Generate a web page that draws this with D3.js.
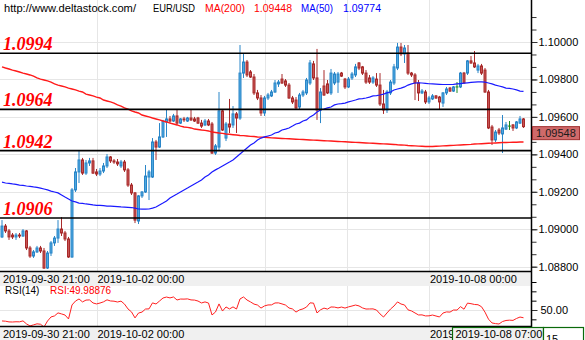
<!DOCTYPE html>
<html>
<head>
<meta charset="utf-8">
<script src="https://cdn.jsdelivr.net/npm/d3@7"></script>
<style>
html, body { margin: 0; padding: 0; background: #fff; }
svg { display: block; }
text { font-family: "Liberation Sans", Arial, sans-serif; }
</style>
</head>
<body>
<svg id="chart" width="585" height="340"></svg>
<script>
// EUR/USD hourly candles with MA(200), MA(50) and RSI(14)
const site = "http://www.deltastock.com/";
const symbol = "EUR/USD";
const firstBarTime = "2019-09-30 21:00";

const opens = [
1.08959,1.09017,1.08991,1.08969,1.08959,1.08969,1.08964,1.08991,1.08900,1.08857,
1.08879,1.08900,1.08884,1.08793,1.08873,1.08927,1.08953,1.09001,1.08980,1.08948,
1.08852,1.09210,1.09306,1.09370,1.09300,1.09354,1.09365,1.09306,1.09295,1.09311,
1.09338,1.09386,1.09365,1.09359,1.09338,1.09359,1.09317,1.09236,1.09194,1.09044,
1.09178,1.09199,1.09279,1.09279,1.09466,1.09439,1.09493,1.09573,1.09589,1.09578,
1.09605,1.09567,1.09589,1.09578,1.09594,1.09589,1.09594,1.09567,1.09557,1.09578,
1.09562,1.09407,1.09439,1.09632,1.09487,1.09562,1.09557,1.09616,1.09594,1.09834,
1.09893,1.09840,1.09813,1.09728,1.09701,1.09621,1.09701,1.09712,1.09733,1.09776,
1.09802,1.09792,1.09770,1.09701,1.09690,1.09653,1.09717,1.09728,1.09781,1.09883,
1.09808,1.09637,1.09765,1.09776,1.09728,1.09781,1.09786,1.09834,1.09802,1.09760,
1.09808,1.09824,1.09888,1.09867,1.09834,1.09808,1.09786,1.09802,1.09770,1.09669,
1.09637,1.09728,1.09781,1.09861,1.09973,1.09936,1.09941,1.09834,1.09824,1.09781,
1.09728,1.09733,1.09680,1.09696,1.09712,1.09706,1.09674,1.09728,1.09754,1.09738,
1.09760,1.09760,1.09834,1.09834,1.09899,1.09888,1.09850,1.09872,1.09850,1.09733,
1.09546,1.09477,1.09530,1.09509,1.09535,1.09551,1.09557,1.09541,1.09567,1.09589];

const highs = [
1.09049,1.09028,1.09001,1.08980,1.08980,1.08980,1.09001,1.08996,1.08911,1.08889,
1.08911,1.08911,1.08900,1.08884,1.08937,1.08964,1.09049,1.09065,1.08991,1.08959,
1.09220,1.09327,1.09423,1.09381,1.09370,1.09381,1.09381,1.09322,1.09327,1.09354,
1.09402,1.09391,1.09375,1.09375,1.09370,1.09370,1.09327,1.09247,1.09199,1.09183,
1.09204,1.09343,1.09317,1.09487,1.09477,1.09567,1.09584,1.09637,1.09605,1.09616,
1.09637,1.09594,1.09600,1.09600,1.09637,1.09600,1.09600,1.09584,1.09589,1.09589,
1.09573,1.09455,1.09733,1.09637,1.09573,1.09696,1.09658,1.09626,1.09984,1.09941,
1.09904,1.09850,1.09829,1.09744,1.09717,1.09712,1.09728,1.09744,1.09797,1.09797,
1.09829,1.09802,1.09781,1.09712,1.09706,1.09728,1.09744,1.09808,1.09904,1.09899,
1.09963,1.09754,1.09850,1.09797,1.09856,1.09840,1.09840,1.09840,1.09808,1.09813,
1.09840,1.09883,1.09893,1.09872,1.09850,1.09824,1.09818,1.09834,1.09834,1.09744,
1.09744,1.09797,1.09883,1.09995,1.09995,1.09984,1.09984,1.09840,1.09834,1.09797,
1.09749,1.09744,1.09712,1.09722,1.09717,1.09712,1.09733,1.09760,1.09760,1.09765,
1.09786,1.09840,1.09840,1.09904,1.09925,1.09952,1.09883,1.09883,1.09861,1.09744,
1.09557,1.09530,1.09541,1.09610,1.09573,1.09578,1.09562,1.09578,1.09605,1.09594];

const lows = [
1.08953,1.08980,1.08943,1.08948,1.08943,1.08953,1.08959,1.08889,1.08847,1.08847,
1.08873,1.08873,1.08788,1.08788,1.08857,1.08911,1.08927,1.08964,1.08937,1.08847,
1.08847,1.09199,1.09247,1.09290,1.09290,1.09338,1.09295,1.09284,1.09284,1.09300,
1.09327,1.09354,1.09349,1.09338,1.09327,1.09306,1.09226,1.09183,1.09033,1.09028,
1.09167,1.09194,1.09156,1.09274,1.09370,1.09434,1.09487,1.09493,1.09567,1.09573,
1.09557,1.09562,1.09573,1.09573,1.09578,1.09573,1.09562,1.09541,1.09551,1.09551,
1.09402,1.09397,1.09423,1.09525,1.09471,1.09514,1.09541,1.09514,1.09584,1.09808,
1.09813,1.09808,1.09717,1.09690,1.09605,1.09605,1.09690,1.09706,1.09728,1.09760,
1.09776,1.09760,1.09696,1.09669,1.09637,1.09637,1.09706,1.09717,1.09770,1.09797,
1.09584,1.09567,1.09712,1.09722,1.09717,1.09770,1.09728,1.09813,1.09749,1.09754,
1.09797,1.09813,1.09850,1.09824,1.09776,1.09776,1.09776,1.09760,1.09658,1.09616,
1.09621,1.09717,1.09770,1.09850,1.09925,1.09888,1.09824,1.09813,1.09690,1.09685,
1.09722,1.09669,1.09669,1.09690,1.09696,1.09637,1.09653,1.09717,1.09733,1.09733,
1.09728,1.09754,1.09776,1.09824,1.09883,1.09861,1.09834,1.09824,1.09728,1.09535,
1.09450,1.09466,1.09503,1.09407,1.09530,1.09530,1.09525,1.09535,1.09562,1.09541];

const closes = [
1.09017,1.08991,1.08959,1.08959,1.08969,1.08964,1.08991,1.08900,1.08857,1.08879,
1.08900,1.08884,1.08793,1.08873,1.08927,1.08953,1.09001,1.08980,1.08948,1.08852,
1.09210,1.09306,1.09370,1.09300,1.09354,1.09365,1.09300,1.09295,1.09311,1.09338,
1.09386,1.09365,1.09359,1.09349,1.09359,1.09317,1.09236,1.09194,1.09049,1.09178,
1.09199,1.09284,1.09306,1.09466,1.09439,1.09493,1.09578,1.09589,1.09578,1.09605,
1.09567,1.09589,1.09584,1.09594,1.09584,1.09578,1.09567,1.09551,1.09578,1.09557,
1.09407,1.09445,1.09632,1.09530,1.09562,1.09546,1.09616,1.09594,1.09834,1.09893,
1.09824,1.09813,1.09728,1.09701,1.09621,1.09701,1.09717,1.09733,1.09781,1.09786,
1.09781,1.09770,1.09701,1.09680,1.09648,1.09717,1.09733,1.09797,1.09888,1.09808,
1.09637,1.09733,1.09717,1.09728,1.09834,1.09829,1.09829,1.09818,1.09760,1.09802,
1.09829,1.09867,1.09861,1.09834,1.09786,1.09786,1.09808,1.09770,1.09669,1.09637,
1.09733,1.09786,1.09867,1.09973,1.09936,1.09968,1.09834,1.09824,1.09781,1.09728,
1.09738,1.09680,1.09701,1.09712,1.09701,1.09680,1.09728,1.09749,1.09738,1.09760,
1.09760,1.09834,1.09781,1.09899,1.09888,1.09867,1.09872,1.09834,1.09733,1.09541,
1.09477,1.09519,1.09514,1.09541,1.09557,1.09551,1.09541,1.09573,1.09589,1.09548];

const ma200 = [
1.09867,1.09861,1.09856,1.09850,1.09845,1.09840,1.09834,1.09829,1.09824,1.09818,
1.09808,1.09802,1.09797,1.09792,1.09786,1.09776,1.09770,1.09765,1.09760,1.09754,
1.09749,1.09744,1.09738,1.09733,1.09722,1.09717,1.09712,1.09706,1.09701,1.09690,
1.09685,1.09680,1.09674,1.09664,1.09658,1.09648,1.09642,1.09632,1.09626,1.09621,
1.09610,1.09605,1.09600,1.09594,1.09589,1.09584,1.09578,1.09573,1.09567,1.09562,
1.09557,1.09551,1.09546,1.09544,1.09541,1.09535,1.09533,1.09530,1.09528,1.09525,
1.09519,1.09517,1.09514,1.09512,1.09509,1.09507,1.09505,1.09503,1.09501,1.09500,
1.09498,1.09496,1.09495,1.09493,1.09492,1.09491,1.09490,1.09488,1.09487,1.09486,
1.09485,1.09484,1.09483,1.09482,1.09481,1.09480,1.09479,1.09478,1.09477,1.09476,
1.09475,1.09474,1.09473,1.09472,1.09471,1.09470,1.09469,1.09468,1.09467,1.09466,
1.09465,1.09464,1.09463,1.09462,1.09461,1.09460,1.09459,1.09458,1.09457,1.09456,
1.09455,1.09454,1.09453,1.09451,1.09450,1.09449,1.09447,1.09446,1.09445,1.09444,
1.09443,1.09442,1.09442,1.09442,1.09443,1.09444,1.09445,1.09446,1.09447,1.09448,
1.09449,1.09450,1.09451,1.09452,1.09453,1.09455,1.09456,1.09457,1.09458,1.09459,
1.09460,1.09461,1.09462,1.09463,1.09463,1.09464,1.09465,1.09465,1.09466,1.09466];

const ma50 = [
1.09252,1.09247,1.09245,1.09242,1.09240,1.09236,1.09234,1.09231,1.09229,1.09226,
1.09224,1.09220,1.09215,1.09210,1.09204,1.09199,1.09194,1.09183,1.09172,1.09162,
1.09151,1.09146,1.09140,1.09138,1.09135,1.09133,1.09130,1.09128,1.09127,1.09126,
1.09124,1.09123,1.09122,1.09121,1.09119,1.09118,1.09117,1.09116,1.09113,1.09108,
1.09107,1.09107,1.09108,1.09113,1.09119,1.09130,1.09140,1.09151,1.09167,1.09178,
1.09188,1.09199,1.09210,1.09220,1.09231,1.09242,1.09252,1.09263,1.09279,1.09290,
1.09306,1.09317,1.09327,1.09338,1.09349,1.09359,1.09370,1.09386,1.09402,1.09418,
1.09434,1.09450,1.09461,1.09477,1.09487,1.09493,1.09498,1.09503,1.09514,1.09519,
1.09530,1.09535,1.09541,1.09551,1.09562,1.09567,1.09578,1.09584,1.09600,1.09610,
1.09626,1.09637,1.09642,1.09648,1.09653,1.09664,1.09669,1.09671,1.09674,1.09680,
1.09685,1.09690,1.09696,1.09698,1.09701,1.09706,1.09712,1.09714,1.09717,1.09722,
1.09728,1.09733,1.09744,1.09749,1.09754,1.09760,1.09770,1.09776,1.09781,1.09782,
1.09781,1.09779,1.09777,1.09776,1.09775,1.09774,1.09773,1.09773,1.09773,1.09774,
1.09776,1.09778,1.09780,1.09782,1.09784,1.09786,1.09787,1.09787,1.09786,1.09781,
1.09776,1.09770,1.09765,1.09760,1.09754,1.09752,1.09749,1.09744,1.09738,1.09736];

const rsi14 = [
36.3,36.0,35.1,35.0,35.3,35.2,36.4,32.6,30.1,31.4,
32.7,32.2,28.8,36.2,41.3,42.6,46.4,45.1,43.7,38.8,
56.3,61.2,63.8,60.1,62.4,62.6,58.8,57.6,58.7,60.2,
62.7,61.3,61.0,60.0,61.1,57.4,51.3,47.6,40.1,46.2,
47.4,51.2,51.4,58.9,57.5,61.2,65.0,66.2,65.1,66.3,
62.5,63.7,63.6,63.9,62.6,62.4,61.2,58.8,60.1,58.7,
43.8,47.5,57.6,48.7,53.8,51.3,53.9,51.2,63.8,66.3,
62.5,60.1,57.4,56.2,52.4,55.1,56.3,56.4,58.8,58.9,
57.6,56.2,52.5,51.3,47.4,50.1,51.4,53.7,58.9,58.6,
46.3,50.2,52.4,51.1,53.8,53.6,52.6,53.7,52.4,53.9,
55.0,56.2,55.1,52.6,51.2,51.3,51.4,50.0,45.1,41.2,
46.3,51.2,55.0,60.1,57.5,56.3,50.2,48.8,46.3,43.8,
43.9,42.6,42.7,43.7,42.5,41.3,46.2,47.6,47.4,49.98876,
49.9,54.2,51.0,58.6,57.9,56.9,56.6,54.1,47.3,38.5,
33.8,33.0,32.5,35.6,36.9,37.3,37.0,39.4,41.2,40.3];

const levels = [1.0994, 1.0964, 1.0942, 1.0906];
const priceTicks = [1.088, 1.090, 1.092, 1.094, 1.096, 1.098, 1.100];
const rsiTicks = [15, 50, 85];
const timeLabels = ["2019-09-30 21:00", "2019-10-02 00:00", "2019-10-08 00:00"];
const gridTimes = ["2019-10-02 00:00", "2019-10-04 00:00", "2019-10-07 00:00", "2019-10-08 00:00"];
const cursorTime = "2019-10-08 07:00";
const cursorRsi = 15;

// ---- layout ----
const W = 585, H = 340;
const plotR = 531;                 // right edge of the panes, price axis starts here
const mainPane = { top: 0, bottom: 271 };
const band1 = { top: 272, bottom: 286 };
const rsiPane = { top: 286, bottom: 326 };
const band2 = { top: 327, bottom: 340 };

const N = closes.length;
const parseTime = d3.timeParse("%Y-%m-%d %H:%M");

// hourly bars; nothing trades over the weekend nor in the Monday midnight hour
const barTimes = [];
for (let t = parseTime(firstBarTime); barTimes.length < N; t = d3.timeHour.offset(t, 1)) {
  const wd = t.getDay();
  if (wd === 6 || wd === 0 || (wd === 1 && t.getHours() === 0)) continue;
  barTimes.push(t);
}
function slotOf(str) {
  const t = parseTime(str);
  const i = d3.bisectLeft(barTimes, t);
  return (i < N && +barTimes[i] === +t) ? i : i - 0.5;
}

const x = d3.scaleLinear().domain([0, N - 1]).range([2, 523.5]);
const y = d3.scaleLinear().domain([1.088, 1.100]).range([266.7, 42]);
const yR = d3.scaleLinear().domain([15, 85]).range([338, 282]);

const svg = d3.select("#chart");
svg.append("rect").attr("width", W).attr("height", H).attr("fill", "#fff");

const defs = svg.append("defs");
defs.append("clipPath").attr("id", "clipMain").append("rect")
  .attr("x", 0).attr("y", mainPane.top).attr("width", plotR).attr("height", mainPane.bottom - mainPane.top);
defs.append("clipPath").attr("id", "clipRsi").append("rect")
  .attr("x", 0).attr("y", rsiPane.top).attr("width", plotR).attr("height", rsiPane.bottom - rsiPane.top);
defs.append("clipPath").attr("id", "clipAll").append("rect")
  .attr("x", 0).attr("y", 0).attr("width", W).attr("height", H);

// ---- main pane ----
const gMain = svg.append("g").attr("clip-path", "url(#clipMain)");

gMain.selectAll("line.hgrid").data(priceTicks).join("line")
  .attr("class", "hgrid")
  .attr("x1", 0).attr("x2", plotR)
  .attr("y1", d => Math.round(y(d)) + 0.5).attr("y2", d => Math.round(y(d)) + 0.5)
  .attr("stroke", "#e6e6e6").attr("stroke-width", 1);

gMain.selectAll("line.vgrid").data(gridTimes).join("line")
  .attr("class", "vgrid")
  .attr("x1", d => Math.round(x(slotOf(d))) + 0.5).attr("x2", d => Math.round(x(slotOf(d))) + 0.5)
  .attr("y1", mainPane.top).attr("y2", mainPane.bottom)
  .attr("stroke", "#e6e6e6").attr("stroke-width", 1);

const bars = d3.range(N).map(i => ({ i, o: opens[i], h: highs[i], l: lows[i], c: closes[i] }));
const upFill = "#4ea8e0", upLine = "#2a86c8";
const dnFill = "#c65454", dnLine = "#a82a2a";
const flatLine = "#1a8a1a";
function lineCol(b) { return b.c > b.o ? upLine : (b.c < b.o ? dnLine : flatLine); }
function fillCol(b) { return b.c > b.o ? upFill : (b.c < b.o ? dnFill : flatLine); }

const gBars = gMain.append("g");
gBars.selectAll("line.wick").data(bars).join("line")
  .attr("class", "wick")
  .attr("x1", b => x(b.i)).attr("x2", b => x(b.i))
  .attr("y1", b => y(b.h)).attr("y2", b => y(b.l))
  .attr("stroke", lineCol).attr("stroke-width", 1);
gBars.selectAll("rect.body").data(bars).join("rect")
  .attr("class", "body")
  .attr("x", b => x(b.i) - 1).attr("width", 2)
  .attr("y", b => y(Math.max(b.o, b.c)))
  .attr("height", b => Math.max(0.01, y(Math.min(b.o, b.c)) - y(Math.max(b.o, b.c))))
  .attr("fill", fillCol).attr("stroke", lineCol).attr("stroke-width", 1);

const maLine = arr => d3.line().x((d, i) => x(i)).y(d => y(d))(arr);
gMain.append("path").attr("d", maLine(ma200))
  .attr("fill", "none").attr("stroke", "#ff1a1a").attr("stroke-width", 1.4);
gMain.append("path").attr("d", maLine(ma50))
  .attr("fill", "none").attr("stroke", "#1a1aff").attr("stroke-width", 1.2);

gMain.selectAll("line.level").data(levels).join("line")
  .attr("class", "level")
  .attr("x1", 0).attr("x2", plotR)
  .attr("y1", d => y(d)).attr("y2", d => y(d))
  .attr("stroke", "#000").attr("stroke-width", 1.6);
gMain.selectAll("text.levelLabel").data(levels).join("text")
  .attr("class", "levelLabel")
  .attr("x", 3).attr("y", d => y(d) - 3)
  .attr("fill", "#ff0000")
  .style("font-family", "'Liberation Serif', 'Times New Roman', serif")
  .style("font-weight", "bold").style("font-style", "italic").style("font-size", "18px")
  .text(d => d.toFixed(4));

// header line
const header = svg.append("g").style("font-size", "11px");
const headerItems = [
  { t: site, x: 4, w: 132, c: "#000" },
  { t: symbol, x: 153, w: 42, c: "#000" },
  { t: "MA(200)", x: 205, w: 40, c: "#ff0000" },
  { t: d3.format(".5f")(ma200[slotOf(cursorTime)]), x: 254, w: 38, c: "#ff0000" },
  { t: "MA(50)", x: 301, w: 32, c: "#0000ff" },
  { t: d3.format(".5f")(ma50[slotOf(cursorTime)]), x: 343, w: 38, c: "#0000ff" }
];
header.selectAll("text").data(headerItems).join("text")
  .attr("x", d => d.x).attr("y", 12).attr("fill", d => d.c)
  .attr("textLength", d => d.w).attr("lengthAdjust", "spacingAndGlyphs")
  .text(d => d.t);

// ---- time bands ----
function timeBand(b) {
  svg.append("rect").attr("x", 0).attr("y", b.top).attr("width", plotR).attr("height", b.bottom - b.top)
    .attr("fill", "#f0f0f0");
  svg.append("line").attr("x1", 0).attr("x2", plotR).attr("y1", b.top - 0.5).attr("y2", b.top - 0.5)
    .attr("stroke", "#000").attr("stroke-width", 1.5);
  svg.append("g").selectAll("text").data(timeLabels).join("text")
    .attr("x", d => x(slotOf(d)) + 1).attr("y", b.top + 11)
    .style("font-size", "11px").attr("fill", "#000").text(d => d);
}
timeBand(band1);

// ---- RSI pane ----
const gRsi = svg.append("g").attr("clip-path", "url(#clipRsi)");
gRsi.append("line").attr("x1", 0).attr("x2", plotR)
  .attr("y1", Math.round(yR(50)) + 0.5).attr("y2", Math.round(yR(50)) + 0.5)
  .attr("stroke", "#e6e6e6");
gRsi.selectAll("line.vgrid").data(gridTimes).join("line")
  .attr("class", "vgrid")
  .attr("x1", d => Math.round(x(slotOf(d))) + 0.5).attr("x2", d => Math.round(x(slotOf(d))) + 0.5)
  .attr("y1", rsiPane.top).attr("y2", rsiPane.bottom)
  .attr("stroke", "#e6e6e6");
gRsi.append("path")
  .attr("d", d3.line().x((d, i) => x(i)).y(d => yR(d))(rsi14))
  .attr("fill", "none").attr("stroke", "#ff2020").attr("stroke-width", 1);

svg.append("text").attr("x", 5).attr("y", 294).style("font-size", "10px").attr("fill", "#000").text("RSI(14)");
svg.append("text").attr("x", 50).attr("y", 294).style("font-size", "10px").attr("fill", "#ff0000")
  .text("RSI:" + d3.format(".5f")(rsi14[slotOf(cursorTime)]));

timeBand(band2);

// ---- right-hand axis ----
svg.append("rect").attr("x", plotR + 1).attr("y", 0).attr("width", W - plotR - 1).attr("height", H).attr("fill", "#fff");

const minorTicks = d3.range(1.088 - 0.002 / 3, 1.1 + 0.002, 0.002 / 3)
  .filter(v => y(v) > 2 && y(v) < mainPane.bottom);
const axisPrice = svg.append("g").attr("transform", `translate(${plotR + 0.5},0)`)
  .call(d3.axisRight(y).tickValues(minorTicks).tickSize(5).tickFormat(""));
axisPrice.select(".domain").remove();
const axisPriceMajor = svg.append("g").attr("transform", `translate(${plotR + 0.5},0)`)
  .call(d3.axisRight(y).tickValues(priceTicks).tickSize(6).tickPadding(1).tickFormat(d3.format(".5f")));
axisPriceMajor.select(".domain").remove();
svg.selectAll(".tick line").attr("stroke", "#333");
axisPriceMajor.selectAll("text").style("font-size", "11px").style("font-family", "'Liberation Sans', Arial, sans-serif").attr("fill", "#000");

const rsiMinor = d3.range(15, 86, 35 / 3).filter(v => yR(v) > band1.top && yR(v) < band2.top);
const axisRsi = svg.append("g").attr("transform", `translate(${plotR + 0.5},0)`)
  .call(d3.axisRight(yR).tickValues(rsiMinor).tickSize(5).tickFormat(""));
axisRsi.select(".domain").remove();
const axisRsiMajor = svg.append("g").attr("transform", `translate(${plotR + 0.5},0)`)
  .call(d3.axisRight(yR).tickValues(rsiTicks.filter(v => yR(v) > rsiPane.top && yR(v) < rsiPane.bottom))
    .tickSize(6).tickPadding(3).tickFormat(d3.format(".2f")));
axisRsiMajor.select(".domain").remove();
axisRsiMajor.selectAll("text").style("font-size", "11px").style("font-family", "'Liberation Sans', Arial, sans-serif").attr("fill", "#000");
axisRsiMajor.selectAll("line").attr("stroke", "#333");

svg.append("line").attr("x1", plotR + 0.5).attr("x2", plotR + 0.5).attr("y1", 0).attr("y2", H)
  .attr("stroke", "#000").attr("stroke-width", 1.5);

// last price marker
const last = closes[N - 1];
svg.append("rect").attr("x", plotR + 1.5).attr("y", y(last)).attr("width", 47).attr("height", 13)
  .attr("fill", "#cf6a6a").attr("stroke", "#a03030").attr("stroke-width", 1);
svg.append("text").attr("x", plotR + 5).attr("y", y(last) + 10.5)
  .style("font-size", "11px").attr("fill", "#1a1a1a").text(d3.format(".5f")(last));

// cursor markers: time on the lower band, RSI value on the axis
const cx = x(slotOf(cursorTime));
svg.append("rect").attr("x", Math.round(cx) - 1.5).attr("y", band2.top + 0.5).attr("width", 91).attr("height", 14)
  .attr("fill", "#f0f0f0").attr("stroke", "#0a6a0a").attr("stroke-width", 1.2);
svg.append("text").attr("x", Math.round(cx) + 1.5).attr("y", band2.top + 11)
  .style("font-size", "11px").attr("fill", "#000").text(cursorTime);

const gCur = svg.append("g").attr("clip-path", "url(#clipAll)");
gCur.append("rect").attr("x", Math.round(cx) + 89.5).attr("y", band2.top + 0.5).attr("width", 40).attr("height", 20)
  .attr("fill", "#fff").attr("stroke", "#0a6a0a").attr("stroke-width", 1.2);
gCur.append("text").attr("x", Math.round(cx) + 92).attr("y", band2.top + 15.5)
  .style("font-size", "11px").attr("fill", "#000").text(String(cursorRsi));
</script>
</body>
</html>
